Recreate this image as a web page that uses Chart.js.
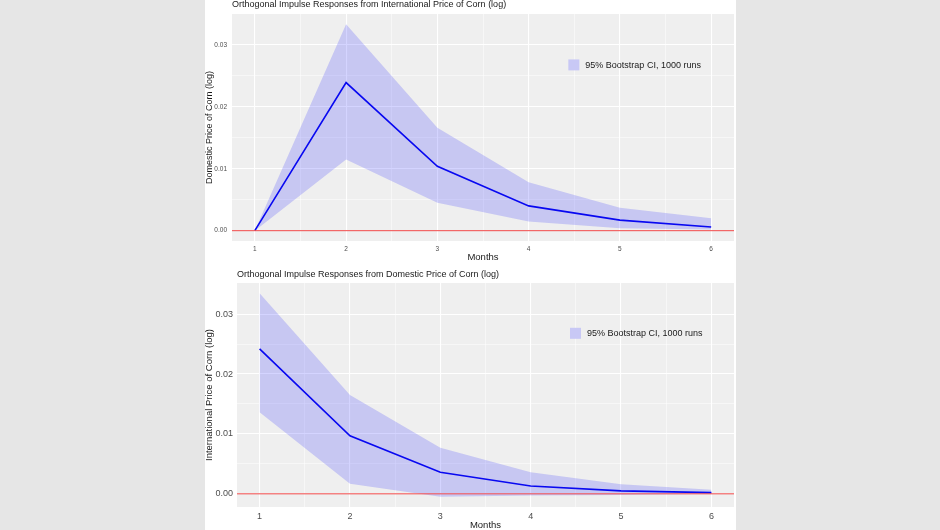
<!DOCTYPE html>
<html>
<head>
<meta charset="utf-8">
<script src="https://cdn.jsdelivr.net/npm/chart.js@4.4.1/dist/chart.umd.min.js"></script>
<style>
  html, body { margin: 0; padding: 0; background: #e6e6e6; }
  #sheet { position: absolute; left: 205px; top: 0; width: 531px; height: 530px; background: #ffffff; }
  canvas { position: absolute; left: 0; }
  #topChart { top: 0; }
  #bottomChart { top: 265px; }
</style>
</head>
<body>
<div id="sheet">
  <canvas id="topChart" width="530" height="265"></canvas>
  <canvas id="bottomChart" width="530" height="265"></canvas>
</div>
<script>
// -------------------------------
// Data
// -------------------------------
const months = [1, 2, 3, 4, 5, 6];
const monthLabels = ["1", "2", "3", "4", "5", "6"];
const yTickValues = [0, 0.01, 0.02, 0.03];
const yTickLabels = ["0.00", "0.01", "0.02", "0.03"];

// response of domestic price to an international price shock
const domMean  = [0, 0.0239, 0.0104, 0.0040, 0.0017, 0.0006];
const domUpper = [0, 0.0333, 0.0166, 0.0078, 0.0037, 0.0020];
const domLower = [0, 0.0115, 0.0045, 0.0015, 0.0004, 0.0002];

// response of international price to a domestic price shock
const intMean  = [0.0242, 0.0097, 0.0036, 0.0013, 0.0005, 0.0002];
const intUpper = [0.0335, 0.0165, 0.0077, 0.0036, 0.0016, 0.0007];
const intLower = [0.0136, 0.0017, -0.0005, -0.0003, -0.0002, 0.0000];

const legendLabel = "95% Bootstrap CI, 1000 runs";
const xTitle = "Months";

const FONT = "'Liberation Sans', Arial, sans-serif";
const PANEL = "#efefef";
const RIBBON = "rgba(40, 40, 255, 0.2)";
const RIBBON_KEY = "#c8c8f5";

// -------------------------------
// Helpers
// -------------------------------
function pts(ys) {
  return months.map((m, i) => ({ x: m, y: ys[i] }));
}

function isMajorY(v) {
  return yTickValues.some((t) => Math.abs(t - v) < 1e-9);
}

// ggplot-like 5% expansion of the data range
function yLimits(upper, lower) {
  const lo = Math.min(...lower, ...upper);
  const hi = Math.max(...lower, ...upper);
  const pad = (hi - lo) * 0.05;
  return [lo - pad, hi + pad];
}

const panelPlugin = {
  id: "panel",
  beforeDraw(chart) {
    const { ctx, chartArea: a } = chart;
    ctx.save();
    ctx.fillStyle = PANEL;
    ctx.fillRect(a.left, a.top, a.right - a.left, a.bottom - a.top);
    ctx.restore();
  },
  afterDatasetsDraw(chart) {
    // red zero line
    const { ctx, chartArea: a } = chart;
    const y0 = chart.scales.y.getPixelForValue(0);
    ctx.save();
    ctx.strokeStyle = "#f04848";
    ctx.lineWidth = 1;
    ctx.beginPath();
    ctx.moveTo(a.left, y0);
    ctx.lineTo(a.right, y0);
    ctx.stroke();
    ctx.restore();
  },
  afterDraw(chart, args, opts) {
    const { ctx, chartArea: a } = chart;
    ctx.save();
    // title
    ctx.fillStyle = "#1a1a1a";
    ctx.font = "9px " + FONT;
    ctx.textAlign = "left";
    ctx.textBaseline = "middle";
    ctx.fillText(opts.title, a.left, opts.titleY);
    // legend
    const lx = a.left + (a.right - a.left) * 0.67;
    const ly = a.top + (a.bottom - a.top) * 0.2;
    ctx.fillStyle = RIBBON_KEY;
    ctx.fillRect(lx, ly, 11, 11);
    ctx.fillStyle = "#1a1a1a";
    ctx.fillText(legendLabel, lx + 17, ly + 6);
    ctx.restore();
  },
};

// -------------------------------
// Build one impulse-response panel
// -------------------------------
function makeChart(id, o) {
  const [yMin, yMax] = yLimits(o.upper, o.lower);
  return new Chart(document.getElementById(id), {
    type: "line",
    data: {
      datasets: [
        { data: pts(o.upper), borderWidth: 0, pointRadius: 0, fill: "+1", backgroundColor: RIBBON, tension: 0 },
        { data: pts(o.lower), borderWidth: 0, pointRadius: 0, fill: false, tension: 0 },
        { data: pts(o.mean), borderColor: "#0000ee", borderWidth: 1.6, pointRadius: 0, fill: false, tension: 0 },
      ],
    },
    options: {
      responsive: false,
      animation: false,
      devicePixelRatio: 1,
      layout: { padding: { top: o.padTop, right: 1, left: 0, bottom: 0 } },
      plugins: {
        legend: { display: false },
        tooltip: { enabled: false },
        panel: { title: o.title, titleY: o.titleY },
      },
      scales: {
        x: {
          type: "linear",
          min: 0.75,
          max: 6.25,
          afterBuildTicks: (s) => {
            const t = [];
            months.forEach((m, i) => {
              t.push({ value: m });
              if (i < months.length - 1) t.push({ value: (m + months[i + 1]) / 2 });
            });
            s.ticks = t;
          },
          afterFit: (s) => { s.height = o.xAxisH; },
          grid: {
            color: "#ffffff",
            lineWidth: (c) => (c.tick && Number.isInteger(c.tick.value) ? 1.1 : 0.5),
            drawTicks: false,
          },
          border: { display: false },
          ticks: {
            padding: o.xTickPad,
            color: "#4d4d4d",
            font: { family: FONT, size: o.tickSize },
            maxRotation: 0,
            autoSkip: false,
            callback: (v) => {
              const i = months.indexOf(v);
              return i >= 0 ? monthLabels[i] : "";
            },
          },
          title: {
            display: true,
            text: xTitle,
            color: "#1a1a1a",
            font: { family: FONT, size: o.xTitleSize, lineHeight: 1 },
            padding: { top: 0, bottom: o.xTitlePad },
          },
        },
        y: {
          min: yMin,
          max: yMax,
          afterBuildTicks: (s) => {
            const t = [];
            yTickValues.forEach((v, i) => {
              t.push({ value: v });
              if (i < yTickValues.length - 1) t.push({ value: (v + yTickValues[i + 1]) / 2 });
            });
            s.ticks = t;
          },
          afterFit: (s) => { s.width = o.yAxisW; },
          grid: {
            color: "#ffffff",
            lineWidth: (c) => (c.tick && isMajorY(c.tick.value) ? 1.1 : 0.5),
            drawTicks: false,
          },
          border: { display: false },
          ticks: {
            padding: o.yTickPad,
            color: "#4d4d4d",
            font: { family: FONT, size: o.tickSize },
            autoSkip: false,
            callback: (v) => {
              const i = yTickValues.findIndex((t) => Math.abs(t - v) < 1e-9);
              return i >= 0 ? yTickLabels[i] : "";
            },
          },
          title: {
            display: true,
            text: o.yTitle,
            color: "#1a1a1a",
            font: { family: FONT, size: o.yTitleSize, lineHeight: 1 },
            padding: { top: o.yTitlePad, bottom: 0 },
          },
        },
      },
    },
    plugins: [panelPlugin],
  });
}

makeChart("topChart", {
  mean: domMean, upper: domUpper, lower: domLower,
  title: "Orthogonal Impulse Responses from International Price of Corn (log)",
  yTitle: "Domestic Price of Corn (log)",
  titleY: 5, padTop: 14,
  yAxisW: 27, xAxisH: 24,
  tickSize: 6.5, xTickPad: 4, yTickPad: 5,
  xTitleSize: 9.5, xTitlePad: 3, yTitleSize: 9, yTitlePad: 0,
});

makeChart("bottomChart", {
  mean: intMean, upper: intUpper, lower: intLower,
  title: "Orthogonal Impulse Responses from Domestic Price of Corn (log)",
  yTitle: "International Price of Corn (log)",
  titleY: 9.5, padTop: 18,
  yAxisW: 32, xAxisH: 23,
  tickSize: 9, xTickPad: 4, yTickPad: 4,
  xTitleSize: 9.5, xTitlePad: 0, yTitleSize: 9.5, yTitlePad: 0,
});
</script>
</body>
</html>
